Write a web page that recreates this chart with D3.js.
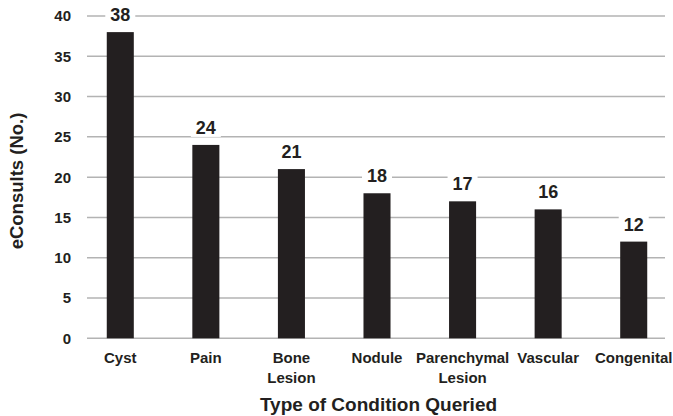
<!DOCTYPE html>
<html><head><meta charset="utf-8">
<script src="https://cdn.jsdelivr.net/npm/d3@7"></script>
<style>body{margin:0;background:#fff}svg{display:block}</style>
</head><body>
<svg id="c" width="673" height="416"></svg>
<script>
const categories = ["Cyst", "Pain", "Bone\nLesion", "Nodule", "Parenchymal\nLesion", "Vascular", "Congenital"];
const values = [38, 24, 21, 18, 17, 16, 12];
const yTicks = [0, 5, 10, 15, 20, 25, 30, 35, 40];

const svg = d3.select("#c");
const font = "'Liberation Sans', Arial, Helvetica, sans-serif";
const x = d3.scaleBand().domain(categories).range([77.5, 676.5]).paddingInner(0.684).paddingOuter(0.342);
const y = d3.scaleLinear().domain([0, 40]).range([338.3, 16]);
const gx0 = 87, gx1 = 665;

// gridlines
svg.append("g").selectAll("line").data(yTicks).join("line")
  .attr("x1", gx0).attr("x2", gx1)
  .attr("y1", d => y(d)).attr("y2", d => y(d))
  .attr("stroke", "#b3b3b3").attr("stroke-width", 1.5);

// y tick labels
svg.append("g").selectAll("text").data(yTicks).join("text")
  .attr("x", 71).attr("y", d => y(d)).attr("dy", "0.36em")
  .attr("text-anchor", "end").attr("font-family", font).attr("font-weight", "bold")
  .attr("font-size", 15).attr("fill", "#231f20").text(d => d);

// bars
svg.append("g").selectAll("rect").data(values).join("rect")
  .attr("x", (d, i) => x(categories[i])).attr("width", x.bandwidth())
  .attr("y", d => y(d)).attr("height", d => y(0) - y(d))
  .attr("fill", "#231f20");

// value labels with white background
const lab = svg.append("g").selectAll("g").data(values).join("g");
lab.append("rect")
  .attr("x", (d, i) => x(categories[i]) + x.bandwidth() / 2 - 15)
  .attr("y", d => y(d) - 27).attr("width", 30).attr("height", 19)
  .attr("fill", "#fff");
lab.append("text")
  .attr("x", (d, i) => x(categories[i]) + x.bandwidth() / 2)
  .attr("y", d => y(d) - 11)
  .attr("text-anchor", "middle").attr("font-family", font).attr("font-weight", "bold")
  .attr("font-size", 18).attr("fill", "#231f20").text(d => d);

// category labels
const cl = svg.append("g").selectAll("text").data(categories).join("text")
  .attr("x", d => x(d) + x.bandwidth() / 2).attr("y", 363)
  .attr("text-anchor", "middle").attr("font-family", font).attr("font-weight", "bold")
  .attr("font-size", 15).attr("fill", "#231f20");
cl.selectAll("tspan").data(d => d.split("\n")).join("tspan")
  .attr("x", function() { return this.parentNode.getAttribute("x"); })
  .attr("dy", (d, i) => i === 0 ? 0 : 19.5).text(d => d);

// axis titles
svg.append("text").attr("x", 378.5).attr("y", 411).attr("text-anchor", "middle")
  .attr("font-family", font).attr("font-weight", "bold").attr("font-size", 19)
  .attr("fill", "#231f20").text("Type of Condition Queried");
svg.append("text").attr("transform", "translate(22.5,181) rotate(-90)").attr("text-anchor", "middle")
  .attr("font-family", font).attr("font-weight", "bold").attr("font-size", 18.5)
  .attr("fill", "#231f20").text("eConsults (No.)");
</script>
</body></html>
